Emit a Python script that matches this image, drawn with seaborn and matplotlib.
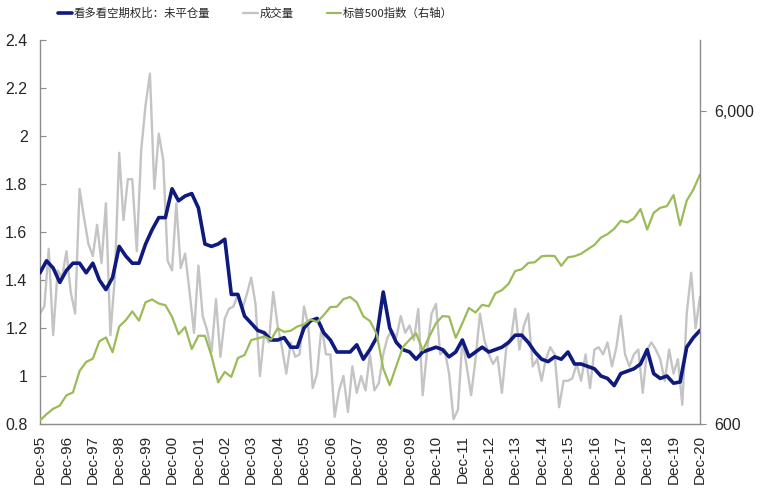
import numpy as np
import pandas as pd
import matplotlib
matplotlib.use("Agg")
import matplotlib.pyplot as plt
import matplotlib.ticker as mticker
import seaborn as sns

# ---------------- data ----------------
# quarterly series, Dec-1995 .. Dec-2020
put_call_oi = [1.43, 1.48, 1.45, 1.39, 1.44, 1.47, 1.47, 1.43, 1.47, 1.40,
               1.36, 1.41, 1.54, 1.50, 1.47, 1.47, 1.55, 1.61, 1.66, 1.66,
               1.78, 1.73, 1.75, 1.76, 1.70, 1.55, 1.54, 1.55, 1.57, 1.34,
               1.34, 1.25, 1.22, 1.19, 1.18, 1.15, 1.15, 1.16, 1.12, 1.12,
               1.20, 1.23, 1.24, 1.18, 1.15, 1.10, 1.10, 1.10, 1.13, 1.07,
               1.11, 1.16, 1.35, 1.20, 1.14, 1.11, 1.10, 1.07, 1.10, 1.11,
               1.12, 1.11, 1.08, 1.10, 1.15, 1.08, 1.10, 1.12, 1.10, 1.11,
               1.12, 1.14, 1.17, 1.17, 1.14, 1.10, 1.07, 1.06, 1.08, 1.07,
               1.10, 1.05, 1.05, 1.04, 1.03, 1.00, 0.99, 0.96, 1.01, 1.02,
               1.03, 1.05, 1.11, 1.01, 0.99, 1.00, 0.97, 0.975, 1.12, 1.16,
               1.19]

spx = [616, 645, 671, 687, 741, 757, 885, 947, 970, 1102, 1134, 1017, 1229,
       1286, 1373, 1283, 1469, 1499, 1455, 1437, 1320, 1160, 1224, 1041, 1148,
       1147, 990, 815, 880, 848, 975, 996, 1112, 1126, 1141, 1115, 1212,
       1181, 1191, 1229, 1248, 1295, 1270, 1336, 1418, 1421, 1503, 1527, 1468,
       1323, 1280, 1166, 903, 798, 919, 1057, 1115, 1169, 1031, 1141, 1258,
       1326, 1321, 1131, 1258, 1408, 1362, 1441, 1426, 1569, 1606, 1682, 1848,
       1872, 1960, 1972, 2059, 2068, 2063, 1920, 2044, 2060, 2099, 2168, 2239,
       2363, 2423, 2519, 2674, 2641, 2718, 2914, 2507, 2834, 2942, 2977, 3231,
       2585, 3100, 3363, 3756]

# bi-monthly series, Dec-1995 .. Dec-2020
put_call_vol = [1.26, 1.29, 1.53, 1.17, 1.44, 1.41, 1.52, 1.35, 1.26, 1.78,
                1.66, 1.55, 1.50, 1.63, 1.47, 1.72, 1.17, 1.41, 1.93, 1.65,
                1.82, 1.82, 1.52, 1.94, 2.13, 2.26, 1.78, 2.01, 1.90, 1.48,
                1.44, 1.72, 1.45, 1.51, 1.35, 1.18, 1.46, 1.25, 1.19, 1.10,
                1.32, 1.08, 1.24, 1.28, 1.29, 1.34, 1.28, 1.34, 1.41, 1.30,
                1.00, 1.18, 1.14, 1.35, 1.21, 1.12, 1.01, 1.14, 1.08, 1.09,
                1.29, 1.21, 0.95, 1.01, 1.21, 1.09, 1.09, 0.83, 0.94, 1.00,
                0.85, 1.04, 0.93, 1.00, 0.94, 1.09, 0.94, 0.97, 1.09, 1.16,
                1.19, 1.16, 1.25, 1.18, 1.21, 1.15, 1.28, 0.92, 1.11, 1.26,
                1.30, 1.09, 1.11, 1.01, 0.82, 0.86, 1.15, 1.04, 0.92, 1.07,
                1.26, 1.15, 1.09, 1.05, 1.08, 0.93, 1.12, 1.15, 1.28, 1.11,
                1.21, 1.26, 1.04, 1.07, 0.98, 1.07, 1.12, 1.09, 0.87, 0.98,
                0.98, 0.99, 1.05, 0.98, 1.09, 0.95, 1.11, 1.12, 1.09, 1.14,
                1.04, 1.12, 1.25, 1.09, 1.04, 1.09, 1.11, 0.93, 1.11, 1.14,
                1.11, 1.07, 0.98, 1.11, 1.01, 1.07, 0.88, 1.26, 1.43, 1.20,
                1.33]

series_labels = ["看多看空期权比：未平仓量", "成交量", "标普500指数（右轴）"]
left_ticks = [0.8, 1.0, 1.2, 1.4, 1.6, 1.8, 2.0, 2.2, 2.4]
left_tick_labels = ["0.8", "1", "1.2", "1.4", "1.6", "1.8", "2", "2.2", "2.4"]
right_ticks = [600, 6000]
right_tick_labels = ["600", "6,000"]
year_labels = ["Dec-95", "Dec-96", "Dec-97", "Dec-98", "Dec-99", "Dec-00",
               "Dec-01", "Dec-02", "Dec-03", "Dec-04", "Dec-05", "Dec-06",
               "Dec-07", "Dec-08", "Dec-09", "Dec-10", "Dec-11", "Dec-12",
               "Dec-13", "Dec-14", "Dec-15", "Dec-16", "Dec-17", "Dec-18",
               "Dec-19", "Dec-20"]

# ---------------- build frames ----------------
q_dates = pd.date_range("1995-12-31", periods=len(put_call_oi),
                        freq=pd.offsets.MonthEnd(3))
b_dates = pd.date_range("1995-12-31", periods=len(put_call_vol),
                        freq=pd.offsets.MonthEnd(2))
tick_dates = pd.date_range("1995-12-31", periods=len(year_labels),
                           freq=pd.offsets.MonthEnd(12))
df_q = pd.DataFrame({"date": q_dates, "oi": put_call_oi, "spx": spx})
df_b = pd.DataFrame({"date": b_dates, "vol": put_call_vol})

# ---------------- style ----------------
sns.set_style("white")
plt.rcParams["font.family"] = ["Liberation Sans", "Noto Sans CJK SC"]
cjk = ["Noto Sans CJK SC", "Liberation Sans"]

C_BLUE = "#0E1A7E"
C_GRAY = "#C4C4C4"
C_GREEN = "#9BBB59"
C_AXIS = "#8C8C8C"
C_TEXT = "#262626"

fig = plt.figure(figsize=(7.73, 5.04), dpi=100)
ax = fig.add_axes([40 / 773, 1 - 424 / 504, 660 / 773, 384 / 504])
ax2 = ax.twinx()

sns.lineplot(data=df_b, x="date", y="vol", ax=ax, color=C_GRAY,
             linewidth=1.7, zorder=2, legend=False)
sns.lineplot(data=df_q, x="date", y="oi", ax=ax, color=C_BLUE,
             linewidth=2.6, zorder=3, legend=False)
sns.lineplot(data=df_q, x="date", y="spx", ax=ax2, color=C_GREEN,
             linewidth=1.6, legend=False)

# left axis
ax.set_ylim(0.8, 2.4)
ax.set_yticks(left_ticks)
ax.set_yticklabels(left_tick_labels)
ax.set_xlim(q_dates[0], q_dates[-1])
ax.set_xticks(tick_dates)
ax.set_xticklabels(year_labels, rotation=90)
ax.set_xlabel("")
ax.set_ylabel("")
ax.tick_params(axis="y", direction="in", length=4, color=C_AXIS, pad=9,
               labelsize=11.5, labelcolor=C_TEXT)
ax.tick_params(axis="x", direction="in", length=4, color=C_AXIS, pad=8,
               labelsize=11, labelcolor=C_TEXT)

# right axis (log)
ax2.set_yscale("log")
ax2.set_ylim(600, 10100)
ax2.yaxis.set_major_locator(mticker.FixedLocator(right_ticks))
ax2.yaxis.set_minor_locator(mticker.NullLocator())
ax2.set_yticklabels(right_tick_labels)
ax2.set_ylabel("")
ax2.tick_params(axis="y", direction="out", length=4, color=C_AXIS, pad=6,
                labelsize=11.5, labelcolor=C_TEXT)

for a in (ax, ax2):
    a.spines["top"].set_visible(False)
    for s in ("left", "right", "bottom"):
        a.spines[s].set_color(C_AXIS)
        a.spines[s].set_linewidth(1.0)
ax.spines["right"].set_visible(False)
ax2.spines["left"].set_visible(False)
ax2.spines["bottom"].set_visible(False)

# legend
handles = [ax.lines[1], ax.lines[0], ax2.lines[0]]
leg = fig.legend(handles, series_labels, loc="center left",
                 bbox_to_anchor=(58 / 773, 1 - 13 / 504), ncol=3,
                 frameon=False, handlelength=1.25, handletextpad=0.15,
                 columnspacing=2.9, borderaxespad=0, borderpad=0,
                 prop={"family": cjk, "size": 8.2})
for t in leg.get_texts():
    t.set_color(C_TEXT)

fig.savefig("out.png", dpi=100)
